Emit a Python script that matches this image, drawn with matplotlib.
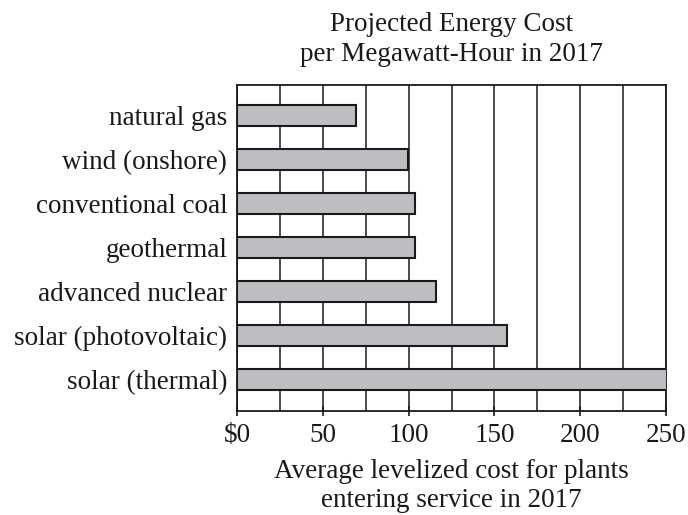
import matplotlib
matplotlib.use("Agg")
import matplotlib.pyplot as plt
from matplotlib.ticker import MultipleLocator

categories = ["natural gas", "wind (onshore)", "conventional coal", "geothermal",
              "advanced nuclear", "solar (photovoltaic)", "solar (thermal)"]
values = [69.3, 99.9, 103.8, 103.8, 116.2, 157.1, 251]
tick_values = [0, 50, 100, 150, 200, 250]
tick_labels = ["$0", "50", "100", "150", "200", "250"]

plt.rcParams['font.family'] = ['Liberation Serif', 'DejaVu Serif']
FS = 19.5
plt.rcParams['font.size'] = FS

fig = plt.figure(figsize=(6.88, 5.15), dpi=100)
ax = fig.add_axes([237/688, 1 - 411/515, (666-237)/688, (411-85)/515])

ypos = list(range(len(categories)))
ax.barh(ypos, values, height=0.47, color="#bdbec1", edgecolor="#1a1a1a",
        linewidth=1.5, zorder=3)

ax.set_xlim(0, 250)
ax.set_ylim(6 + 32/44.3, -31/44.3)
ax.set_yticks(ypos)
ax.set_yticklabels(categories)
ax.tick_params(axis='y', length=0, pad=7)
ax.set_xticks(tick_values)
ax.set_xticklabels(tick_labels)
ax.xaxis.set_minor_locator(MultipleLocator(25))
ax.tick_params(axis='x', which='major', length=7, width=1.2, direction='inout', pad=5, color="#1a1a1a")
ax.tick_params(axis='x', which='minor', length=0)
ax.grid(axis='x', which='both', color="#1a1a1a", linewidth=1.1, zorder=1)
for s in ax.spines.values():
    s.set_color("#1a1a1a")
    s.set_linewidth(1.3)
ax.tick_params(colors="#1a1a1a", labelcolor="#1a1a1a")

ax.set_title("Projected Energy Cost\nper Megawatt-Hour in 2017", fontsize=FS,
             color="#1a1a1a", pad=17, linespacing=1.3)
ax.set_xlabel("Average levelized cost for plants\nentering service in 2017", fontsize=FS,
              color="#1a1a1a", labelpad=8, linespacing=1.2)

fig.savefig("out.png", dpi=100)
